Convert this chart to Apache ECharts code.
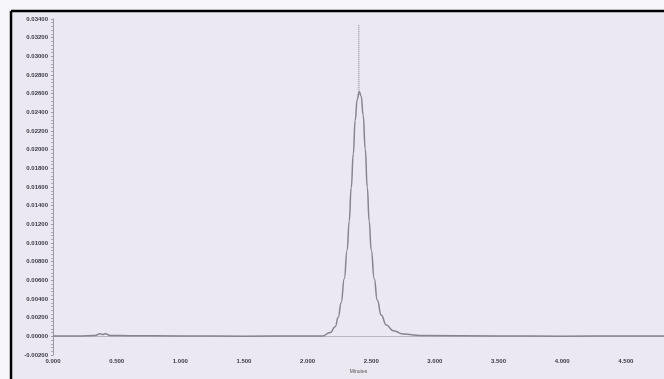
<!DOCTYPE html>
<html>
<head>
<meta charset="utf-8">
<script src="https://cdn.jsdelivr.net/npm/echarts@6/dist/echarts.min.js"></script>
<style>
html,body{margin:0;padding:0;background:#f7f6fa;}
#main{width:664px;height:379px;}
</style>
</head>
<body>
<div id="main"></div>
<script>
// 色谱图数据（时间 min / 响应值）
var times = [0, 0.2, 0.33, 0.37, 0.39, 0.41, 0.45, 0.6, 1.0, 1.5, 2.0, 2.115,
	2.178, 2.217, 2.241, 2.264, 2.288, 2.311, 2.327, 2.343, 2.359, 2.374, 2.390, 2.406,
	2.421, 2.437, 2.453, 2.469, 2.484, 2.500, 2.524, 2.547, 2.579, 2.618, 2.673, 2.752, 2.885,
	3.5, 4.0, 4.5, 4.8];
var signal = [0.00005, 0.00005, 0.0001, 0.0003, 0.0002, 0.0003, 0.0001, 0.00008, 0.00005, 0.00003, 0.00005, 0.00005,
	0.00041, 0.00103, 0.00206, 0.0036, 0.00617, 0.00926, 0.01235, 0.01595, 0.01955, 0.02315, 0.02541, 0.02624,
	0.02573, 0.02367, 0.02006, 0.01595, 0.01235, 0.00926, 0.00617, 0.00391, 0.00226, 0.00123, 0.00062, 0.00026, 0.0001,
	0.00005, 0.00003, 0.00005, 0.00005];
// 峰顶虚线尖峰
var spikeTimes = [2.398, 2.402, 2.406];
var spikeSignal = [0.0262, 0.0334, 0.0262];

function pairs(xs, ys){
	var arr = [];
	for (var i = 0; i < xs.length; i++) {
		arr.push([xs[i], ys[i]]);
	}
	return arr;
}

var myChart = echarts.init(document.getElementById('main'));
var option = {
	backgroundColor: '#ebe8f2',
	animation: false,
	graphic: [
		{type: 'rect', shape: {x: 0, y: 0, width: 10, height: 379}, style: {fill: '#f7f6fa'}, silent: true},
		{type: 'rect', shape: {x: 0, y: 0, width: 664, height: 10}, style: {fill: '#f7f6fa'}, silent: true},
		{type: 'line', shape: {x1: 11, y1: 11, x2: 664, y2: 11}, style: {stroke: '#000', lineWidth: 2.5}, silent: true},
		{type: 'line', shape: {x1: 11, y1: 11, x2: 11, y2: 379}, style: {stroke: '#000', lineWidth: 2.5}, silent: true}
	],
	grid: {left: 53, right: 0, top: 19, bottom: 10},
	xAxis: {
		type: 'value',
		min: 0,
		max: 4.8,
		interval: 0.5,
		name: 'Minutes',
		nameLocation: 'middle',
		nameGap: 9,
		nameTextStyle: {fontSize: 5, color: '#555'},
		axisLine: {lineStyle: {color: '#b8b6bf', width: 1}},
		axisTick: {show: false},
		splitLine: {show: false},
		axisLabel: {
			fontSize: 6,
			fontWeight: 'bold',
			color: '#3a3a44',
			margin: 3,
			showMaxLabel: false,
			formatter: function (v) { return v.toFixed(3); }
		}
	},
	yAxis: {
		type: 'value',
		min: -0.002,
		max: 0.034,
		interval: 0.002,
		axisLine: {show: true, lineStyle: {color: '#9a98a2', width: 1}},
		axisTick: {show: true, length: 2, lineStyle: {color: '#9a98a2'}},
		minorTick: {show: true, splitNumber: 5, length: 2, lineStyle: {color: '#aaa8b2'}},
		splitLine: {show: false},
		axisLabel: {
			fontSize: 6,
			fontWeight: 'bold',
			color: '#3a3a44',
			margin: 5,
			formatter: function (v) { return v.toFixed(5); }
		}
	},
	series: [{
		name: 'signal',
		type: 'line',
		data: pairs(times, signal),
		smooth: 0.5,
		smoothMonotone: 'x',
		showSymbol: false,
		lineStyle: {color: '#86848e', width: 1.5}
	}, {
		name: 'spike',
		type: 'line',
		data: pairs(spikeTimes, spikeSignal),
		showSymbol: false,
		lineStyle: {color: '#a8a6b0', width: 1, type: 'dotted'}
	}]
};
myChart.setOption(option);
window.onresize = myChart.resize;
</script>
</body>
</html>
